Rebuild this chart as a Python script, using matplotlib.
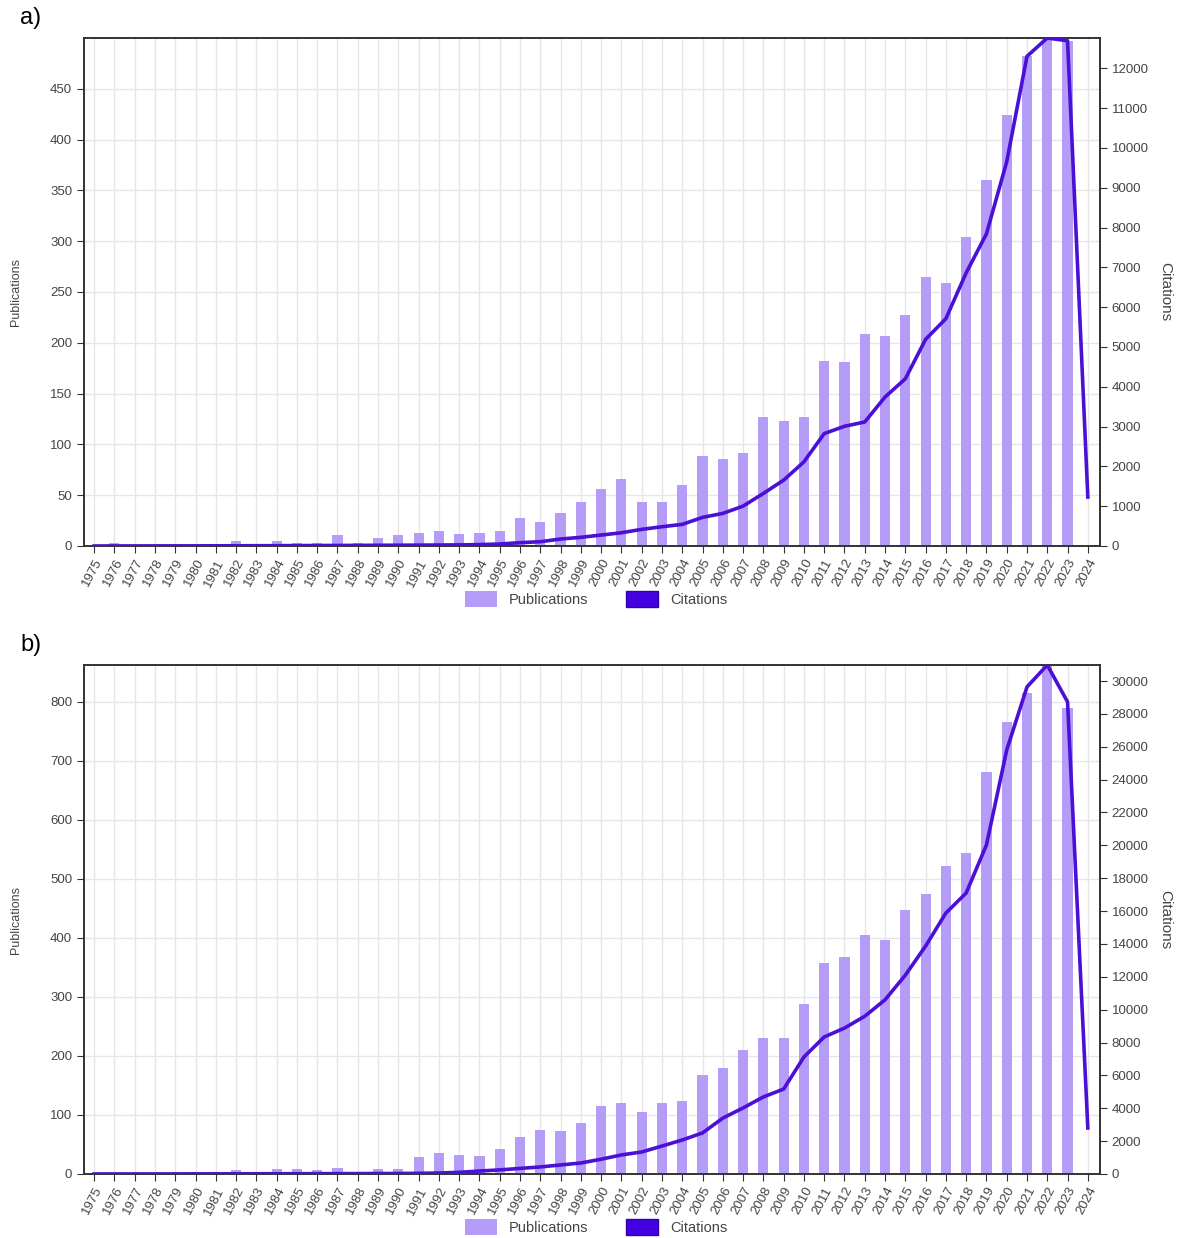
import matplotlib.pyplot as plt
import numpy as np
from matplotlib.patches import Patch

plt.rcParams["font.family"] = ["Liberation Sans", "DejaVu Sans"]

YEARS = list(range(1975, 2025))

# a)
PUBS_A = [1, 3, 0, 0, 0, 0, 2, 5, 0, 5, 3, 3, 11, 3, 8, 11, 13, 15, 12, 13,
          15, 28, 24, 32, 43, 56, 66, 43, 43, 60, 89, 86, 92, 127, 123, 127, 182, 181, 209, 207,
          227, 265, 259, 304, 360, 424, 482, 500, 497, 0]
CITES_A = [0, 2, 2, 3, 3, 4, 5, 6, 7, 8, 10, 12, 14, 16, 18, 20, 22, 25, 28, 35,
           50, 83, 108, 175, 218, 275, 333, 418, 484, 543, 719, 819, 1002, 1320, 1654, 2113, 2824, 3007, 3115, 3742,
           4200, 5190, 5710, 6860, 7840, 9650, 12300, 12760, 12690, 1230]

# b)
PUBS_B = [1, 2, 1, 1, 1, 3, 4, 7, 4, 8, 9, 7, 10, 4, 8, 8, 28, 35, 33, 30,
          43, 62, 74, 72, 86, 115, 120, 105, 121, 124, 167, 179, 210, 231, 231, 288, 358, 367, 405, 397,
          447, 474, 522, 544, 680, 765, 815, 862, 790, 0]
CITES_B = [2, 3, 4, 5, 6, 8, 10, 12, 14, 16, 18, 20, 22, 25, 28, 32, 40, 60, 100, 180,
           250, 340, 430, 550, 670, 900, 1160, 1340, 1700, 2070, 2500, 3400, 4020, 4690, 5170, 7120, 8340, 8880, 9600, 10600,
           12100, 13870, 15880, 17100, 20020, 25800, 29640, 30975, 28730, 2800]

BAR_C = "#b59cf8"
LINE_C = "#4a10d6"
TXT_C = "#444444"

W, H = 1180, 1238
fig = plt.figure(figsize=(W / 100, H / 100), dpi=100)


def panel(top, bottom, pubs, cites, pub_ticks, cit_ticks, letter):
    ax = fig.add_axes([84 / W, 1 - bottom / H, (1100 - 84) / W, (bottom - top) / H])
    x = np.arange(len(YEARS))
    ax.bar(x, pubs, width=0.5, color=BAR_C, zorder=2)
    ax.set_xlim(-0.5, len(YEARS) - 0.4)
    ax.set_ylim(0, max(pubs))
    ax.set_yticks(pub_ticks)
    ax.set_xticks(x)
    ax.set_xticklabels([str(y) for y in YEARS], rotation=62, ha="right",
                       rotation_mode="anchor", fontsize=9.5, color=TXT_C)
    ax.tick_params(axis="y", labelsize=9.5, labelcolor=TXT_C, length=5, color="#333333")
    ax.tick_params(axis="x", length=5, color="#333333", pad=3)
    ax.grid(True, color="#e6e6e6", linewidth=1, zorder=0)
    ax.set_axisbelow(True)
    for s in ax.spines.values():
        s.set_color("#333333")
        s.set_linewidth(1.2)
    ax.set_ylabel("Publications", fontsize=9, color=TXT_C)
    ax.yaxis.set_label_coords((22 - 84) / 1016, 0.5)

    ax2 = ax.twinx()
    ax2.plot(x, cites, color=LINE_C, linewidth=2.6, zorder=3)
    ax2.set_ylim(0, max(cites))
    ax2.set_yticks(cit_ticks)
    ax2.tick_params(axis="y", labelsize=9.5, labelcolor=TXT_C, length=5, color="#333333")
    for s in ax2.spines.values():
        s.set_color("#333333")
        s.set_linewidth(1.2)
    ax2.set_ylabel("Citations", fontsize=11, color=TXT_C, rotation=270, va="center")
    ax2.yaxis.set_label_coords((1165 - 84) / 1016, 0.5)

    handles = [Patch(facecolor=BAR_C, label="Publications"),
               Patch(facecolor="#4400e0", edgecolor="#3300aa", label="Citations")]
    fig.legend(handles=handles, loc="center", ncol=2, frameon=False,
               bbox_to_anchor=(596 / W, 1 - (bottom + 53) / H), fontsize=10.5,
               handlelength=2.2, handleheight=1.3, columnspacing=2.6, labelcolor=TXT_C)
    fig.text(20 / W, 1 - (top - 20) / H, letter, fontsize=17, va="center", ha="left")


panel(38, 546, PUBS_A, CITES_A, range(0, 500, 50), range(0, 12001, 1000), "a)")
panel(665, 1174, PUBS_B, CITES_B, range(0, 801, 100), range(0, 30001, 2000), "b)")

fig.savefig("out.png", dpi=100, facecolor="white")
